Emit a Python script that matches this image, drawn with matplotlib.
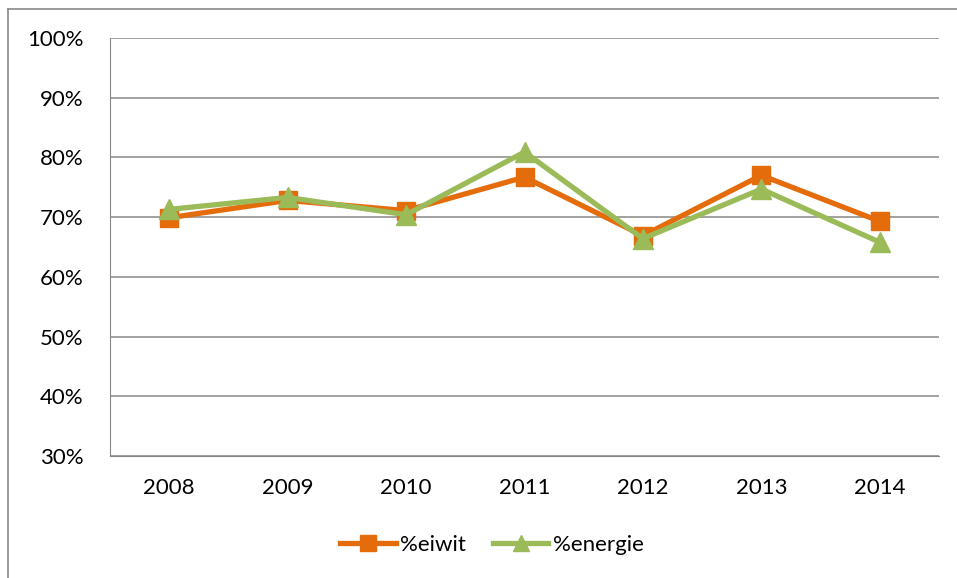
import matplotlib
matplotlib.use("Agg")
import matplotlib.pyplot as plt
from matplotlib.lines import Line2D
from matplotlib.ticker import PercentFormatter

# Chart data
years = ["2008", "2009", "2010", "2011", "2012", "2013", "2014"]
eiwit = [69.9, 72.8, 71.1, 76.7, 66.9, 77.0, 69.3]
energie = [71.3, 73.3, 70.4, 80.9, 66.4, 74.7, 65.8]

plt.rcParams['font.family'] = ['Lato', 'DejaVu Sans']

fig = plt.figure(figsize=(9.57, 5.78), dpi=100)
ax = fig.add_axes([110 / 957, 1 - 456 / 578, 829 / 957, 418 / 578])

x = list(range(len(years)))
ax.plot(x, eiwit, color='#E46C0A', linewidth=3.8, marker='s', markersize=13,
        label='%eiwit', zorder=3)
ax.plot(x, energie, color='#9BBB59', linewidth=3.8, marker='^', markersize=14,
        label='%energie', zorder=4)

ax.set_xlim(-0.5, len(years) - 0.5)
ax.set_ylim(30, 100)
ax.set_yticks(range(30, 101, 10))
ax.yaxis.set_major_formatter(PercentFormatter(decimals=0))
ax.set_xticks(x)
ax.set_xticklabels(years)

# Gridlines and axes
ax.grid(axis='y', color='#878787', linewidth=1.1)
ax.set_axisbelow(True)
for side in ['top', 'right']:
    ax.spines[side].set_visible(False)
ax.spines['left'].set_color('#878787')
ax.spines['bottom'].set_color('#878787')
ax.tick_params(axis='both', length=0, labelsize=16, colors='black')
ax.tick_params(axis='y', pad=19)
ax.tick_params(axis='x', pad=16)

leg = ax.legend(loc='center', bbox_to_anchor=(492 / 957, 1 - 545 / 578),
                bbox_transform=fig.transFigure, ncol=2, frameon=False,
                fontsize=16, handlelength=2.5, handletextpad=0.2,
                columnspacing=1.2, markerscale=0.85)

# Outer chart frame (only top and left are visible)
fig.add_artist(Line2D([8 / 957, 1], [1 - 9 / 578, 1 - 9 / 578],
                      color='#898989', linewidth=1.2, transform=fig.transFigure))
fig.add_artist(Line2D([8 / 957, 8 / 957], [0, 1 - 9 / 578],
                      color='#898989', linewidth=1.2, transform=fig.transFigure))

fig.savefig('out.png', dpi=100)
